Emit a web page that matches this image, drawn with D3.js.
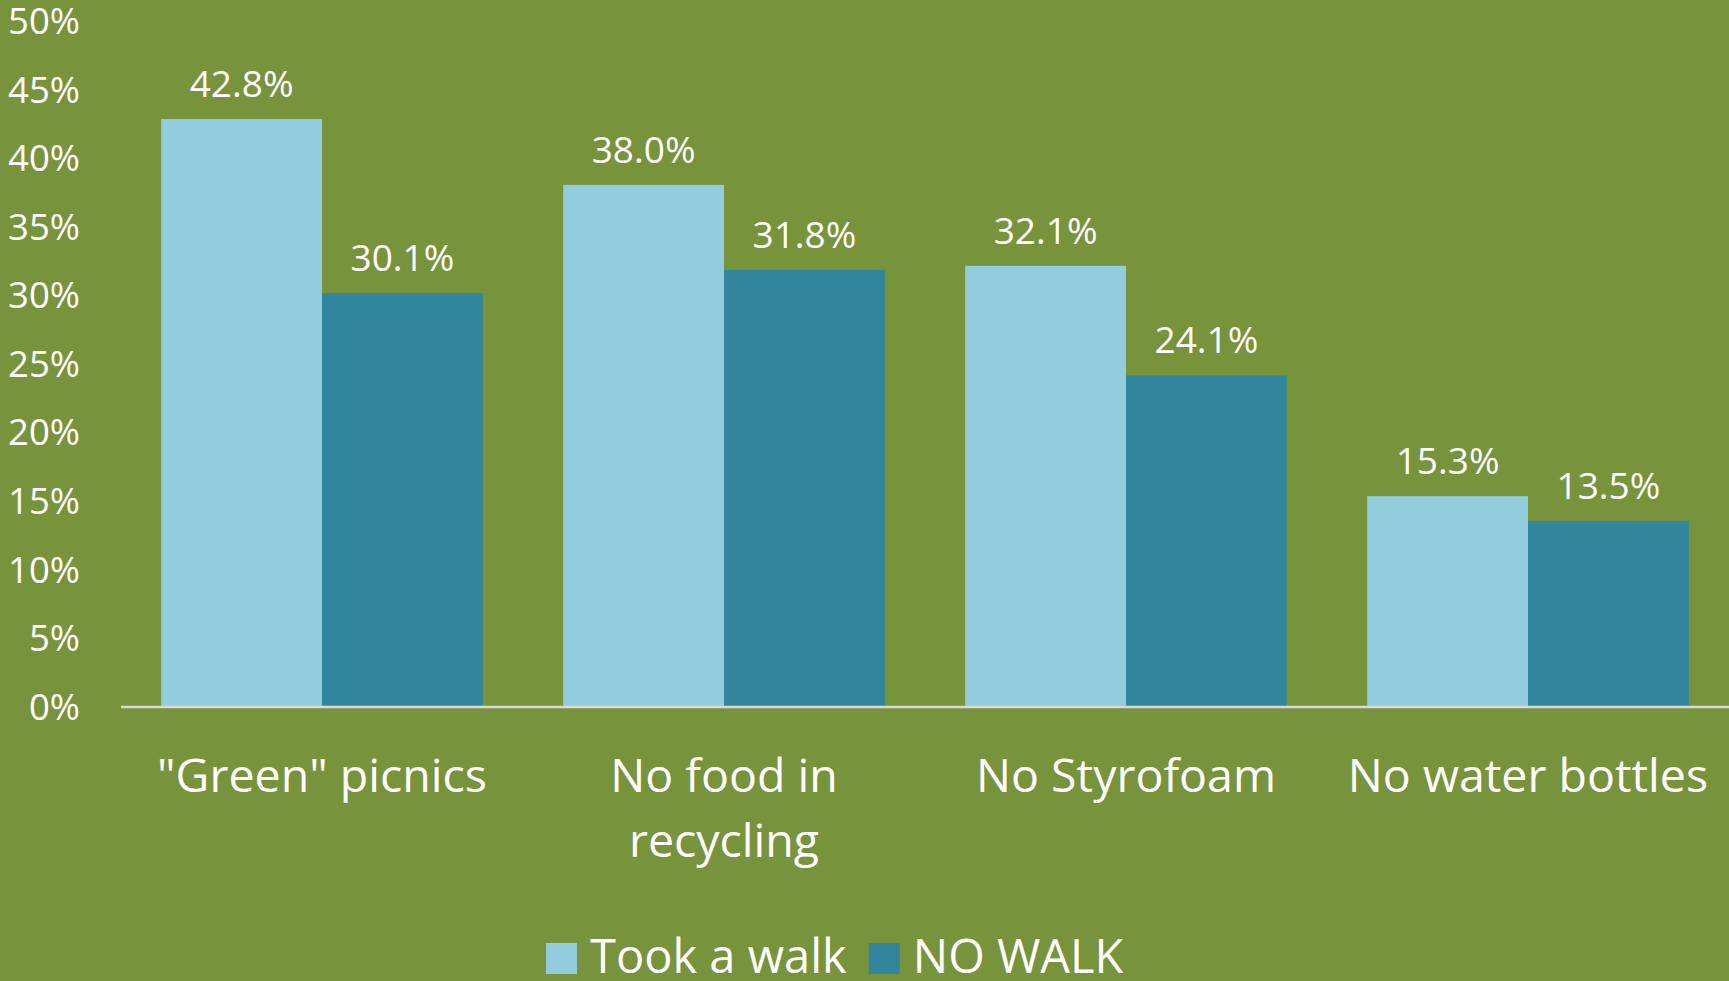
<!DOCTYPE html>
<html>
<head>
<meta charset="utf-8">
<script src="https://cdn.jsdelivr.net/npm/d3@7"></script>
<style>
  html, body { margin: 0; padding: 0; background: #77933C; overflow: hidden; }
  #chart { width: 1729px; height: 981px; }
  text { font-family: "Open Sans", sans-serif; fill: #fff; }
</style>
</head>
<body>
<div id="chart"></div>
<script>
var categories = ['"Green" picnics', "No food in recycling", "No Styrofoam", "No water bottles"];
var seriesNames = ["Took a walk", "NO WALK"];
var tookWalk = [42.8, 38.0, 32.1, 15.3];
var noWalk = [30.1, 31.8, 24.1, 13.5];
var yTicks = [0, 5, 10, 15, 20, 25, 30, 35, 40, 45, 50];
var colors = ["#93CDDD", "#31859C"];

var width = 1729,
    height = 981,
    plotLeft = 121,
    plotRight = 1729,
    plotTop = 20.3,
    plotBottom = 706;

var rows = categories.map(function(c, i) {
  return {cat: c, vals: [tookWalk[i], noWalk[i]]};
});

var svg = d3.select("#chart").append("svg")
  .attr("width", width)
  .attr("height", height);

svg.append("rect")
  .attr("width", width)
  .attr("height", height)
  .attr("fill", "#77933C");

var x = d3.scaleBand()
  .domain(categories)
  .range([plotLeft, plotRight])
  .paddingInner(0.2)
  .paddingOuter(0.1);

var x1 = d3.scaleBand()
  .domain([0, 1])
  .range([0, x.bandwidth()]);

var y = d3.scaleLinear()
  .domain([0, 50])
  .range([plotBottom, plotTop]);

// y axis labels
var yAxis = svg.append("g")
  .attr("transform", "translate(80,0)")
  .call(d3.axisLeft(y).tickValues(yTicks).tickFormat(function(d){ return d + "%"; }).tickSize(0).tickPadding(0));
yAxis.select(".domain").remove();
yAxis.selectAll("text")
  .attr("font-size", 36.5)
  .attr("font-family", "Open Sans")
  .attr("fill", "#fff")
  .attr("dy", "0.36em");

// bars
var group = svg.selectAll("g.cat")
  .data(rows)
  .enter().append("g")
  .attr("class", "cat")
  .attr("transform", function(d){ return "translate(" + x(d.cat) + ",0)"; });

group.selectAll("rect")
  .data(function(d){ return d.vals; })
  .enter().append("rect")
  .attr("x", function(d, i){ return x1(i); })
  .attr("y", function(d){ return y(d); })
  .attr("width", x1.bandwidth())
  .attr("height", function(d){ return y(0) - y(d); })
  .attr("fill", function(d, i){ return colors[i]; });

group.selectAll("text.value")
  .data(function(d){ return d.vals; })
  .enter().append("text")
  .attr("class", "value")
  .attr("x", function(d, i){ return x1(i) + x1.bandwidth() / 2; })
  .attr("y", function(d){ return y(d) - 22; })
  .attr("text-anchor", "middle")
  .attr("font-size", 37)
  .text(function(d){ return d.toFixed(1) + "%"; });

// x axis line
svg.append("line")
  .attr("x1", plotLeft)
  .attr("x2", plotRight)
  .attr("y1", y(0) + 1)
  .attr("y2", y(0) + 1)
  .attr("stroke", "#D9D9D9")
  .attr("stroke-width", 2.5);

// category labels
svg.selectAll("text.cat")
  .data(categories)
  .enter().append("text")
  .attr("class", "cat")
  .attr("x", function(d){ return x(d) + x.bandwidth() / 2; })
  .attr("y", 792)
  .attr("text-anchor", "middle")
  .attr("font-size", 46.5)
  .text(function(d){ return d; })
  .call(wrap, x.step());

function wrap(text, maxW) {
  text.each(function() {
    var t = d3.select(this),
        words = t.text().split(/\s+/).reverse(),
        word, line = [], lineNo = 0,
        cx = t.attr("x"), cy = t.attr("y"),
        tspan = t.text(null).append("tspan").attr("x", cx).attr("y", cy);
    while (word = words.pop()) {
      line.push(word);
      tspan.text(line.join(" "));
      if (tspan.node().getComputedTextLength() > maxW && line.length > 1) {
        line.pop();
        tspan.text(line.join(" "));
        line = [word];
        tspan = t.append("tspan").attr("x", cx).attr("y", +cy + (++lineNo) * 65).text(word);
      }
    }
  });
}

// legend
var legend = svg.append("g").attr("class", "legend");
var lx = 546;
seriesNames.forEach(function(name, i) {
  legend.append("rect")
    .attr("x", lx)
    .attr("y", 943)
    .attr("width", 31)
    .attr("height", 31)
    .attr("fill", colors[i]);
  var t = legend.append("text")
    .attr("x", lx + 44)
    .attr("y", 973)
    .attr("font-size", 47)
    .text(name);
  lx += 44 + t.node().getComputedTextLength() + 22;
});
</script>
</body>
</html>
